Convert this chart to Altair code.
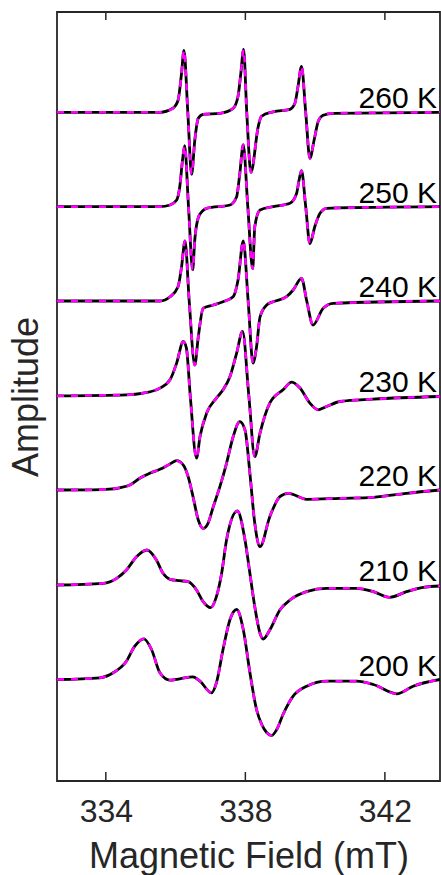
import altair as alt
import pandas as pd

temps = ["260 K", "250 K", "240 K", "230 K", "220 K", "210 K", "200 K"]
offsets = [668.7, 574.3, 480.0, 385.2, 291.0, 196.0, 101.5]

field_260 = [332.6, 335.55, 335.92, 336.07, 336.17, 336.24, 336.35, 336.46, 336.55, 336.65, 336.79, 337.27,
             337.65, 337.79, 337.87, 337.95, 338.04, 338.16, 338.37, 338.46, 338.80, 339.28, 339.42, 339.51,
             339.61, 339.73, 339.85, 339.97, 340.09, 340.23, 340.52, 343.58]
amp_260 = [0, 0, 4, 12, 39, 62, 0, -62, -28, -6, -2, -1,
           4, 16, 39, 63, 0, -60, -14, -4, 0.5, 3, 9, 26,
           46, 0, -46, -28, -9, -3, -1, 0]

field_250 = [332.6, 335.55, 335.84, 336.03, 336.12, 336.20, 336.26, 336.37, 336.49, 336.55, 336.65, 336.78,
             336.89, 337.56, 337.75, 337.84, 337.94, 338.07, 338.21, 338.27, 338.42, 338.80, 339.28, 339.47,
             339.54, 339.61, 339.73, 339.85, 339.99, 340.14, 340.33, 343.58]
amp_250 = [0, 0, 1.7, 6.7, 20, 47, 61, 0, -63, -33, -11, -4,
           -1.6, 1.7, 10, 33, 62, 0, -62, -20, -3.3, 0, 3.4, 13.4,
           26.7, 36, 0, -37, -20, -6.6, -1.6, 0]

field_240 = [332.6, 335.55, 335.84, 336.07, 336.17, 336.27, 336.39, 336.55, 336.65, 336.79, 337.08, 337.36,
             337.65, 337.79, 337.94, 338.08, 338.22, 338.32, 338.42, 338.61, 338.80, 339.18, 339.37, 339.61,
             339.76, 339.94, 340.23, 340.52, 343.58]
amp_240 = [0, 0, 4.3, 14.3, 34, 60, 0, -64, -36, -7.3, -4, -0.7,
           4.3, 21, 60, 0, -62, -46, -16, -4, -0.7, 4.3, 11, 22.7,
           0, -24, -7.3, -2.3, 0]

field_230 = [332.6, 334.59, 335.07, 335.55, 335.84, 336.03, 336.22, 336.31, 336.42, 336.60, 336.70, 336.89,
             337.17, 337.36, 337.56, 337.75, 337.92, 338.10, 338.27, 338.42, 338.70, 339.08, 339.33, 339.56,
             339.85, 340.09, 340.33, 340.71, 341.67, 343.58]
amp_230 = [0, 1, 2.7, 7.7, 16, 32.7, 54.3, 47.7, 0, -62.3, -40.7, -17.3,
           -2.3, 6, 19.3, 42.7, 64.3, 0, -60.7, -37.3, -7.3, 6, 13.7, 8,
           -7.3, -14, -10.7, -5.7, -3.3, -0.7]

field_220 = [332.6, 333.6, 334.1, 334.40, 334.69, 334.97, 335.26, 335.55, 335.84, 336.03, 336.22, 336.36, 336.50,
             336.65, 336.79, 336.93, 337.08, 337.27, 337.46, 337.65, 337.84, 337.99, 338.13, 338.27, 338.42,
             338.70, 338.99, 339.23, 339.76, 340.71, 341.67, 342.62, 343.58]
amp_220 = [0, 0.2, 0.8, 2.2, 5, 11.7, 16.7, 20.7, 26, 29.3, 25, 13.3, -6.7,
           -30, -38.3, -33.3, -16.7, 3.3, 26.7, 53.3, 68.3, 60, 16.7, -33.3, -56.7,
           -26.7, -6.7, -3.3, -9.3, -8.3, -7.3, -3.3, 0]

field_210 = [332.6, 333.92, 334.31, 334.59, 334.88, 335.18, 335.45, 335.64, 335.84, 336.12, 336.36, 336.60,
             336.79, 337.00, 337.17, 337.32, 337.46, 337.77, 337.99, 338.13, 338.27, 338.42, 338.51, 338.70,
             338.99, 339.28, 339.75, 340.33, 341.19, 341.67, 342.14, 342.62, 343.10, 343.58]
amp_210 = [0, 1.7, 6.7, 15, 28.3, 35, 25, 11.7, 5.7, 4.3, 3.3, -5,
           -16.7, -22.7, -11.7, 11.7, 45, 74, 45, 11.7, -21.7, -48.3, -54, -45,
           -25, -15, -6.7, -3.3, -3.3, -6.7, -12.3, -6.7, -2.3, -1]

field_200 = [332.6, 333.83, 334.21, 334.59, 334.83, 335.09, 335.31, 335.55, 335.84, 336.12, 336.50, 336.70,
             337.03, 337.17, 337.36, 337.56, 337.75, 337.94, 338.13, 338.32, 338.47, 338.61, 338.75, 338.90,
             339.08, 339.37, 339.76, 340.33, 341.19, 341.67, 342.34, 342.81, 343.58]
amp_200 = [0, 1.7, 6.7, 18.3, 33.3, 40.7, 30, 6.7, -0.7, 0.7, 2.7, -1.7,
           -13.3, -3.3, 30, 60, 70, 50, 7, -30, -45, -53, -56, -50,
           -35, -16.7, -6.7, -1.7, -1.7, -5, -14.3, -6.7, 0]

tick_values = [334, 338, 342]

fields = [field_260, field_250, field_240, field_230, field_220, field_210, field_200]
amps = [amp_260, amp_250, amp_240, amp_230, amp_220, amp_210, amp_200]

rows = []
for t, off, fs, am in zip(temps, offsets, fields, amps):
    for i, (f, a) in enumerate(zip(fs, am)):
        rows.append({"temp": t, "i": i, "field": f, "y": a + off})
df = pd.DataFrame(rows)
lab = pd.DataFrame({"temp": temps, "y": offsets})
ticks = pd.DataFrame({"field": tick_values})

FONT = "Liberation Sans"
AXC = "#262626"
xs = alt.Scale(domain=[332.6, 343.58], nice=False, zero=False)
ys = alt.Scale(domain=[0, 769], nice=False, zero=False)

xaxis = alt.Axis(values=tick_values, ticks=False, domain=False, grid=False,
                 labelFontSize=32, labelPadding=15, labelColor=AXC, labelFont=FONT,
                 title="Magnetic Field (mT)", titleFontSize=36, titleFont=FONT,
                 titleColor=AXC, titleFontWeight="normal", titleBaseline="alphabetic",
                 titleY=86)
yaxis = alt.Axis(ticks=False, labels=False, domain=False, grid=False,
                 title="Amplitude", titleFontSize=36, titleFont=FONT, titleColor=AXC,
                 titleFontWeight="normal", titleBaseline="alphabetic", titleAngle=270,
                 titleAlign="center", titleX=-20, titleY=384.5)

base = alt.Chart(df).encode(
    x=alt.X("field:Q", scale=xs, axis=xaxis),
    y=alt.Y("y:Q", scale=ys, axis=yaxis),
    detail="temp:N",
    order="i:Q",
)
black = base.mark_line(color="black", strokeWidth=2.8, interpolate="monotone", clip=True)
mag = base.mark_line(color="#ff00ff", strokeWidth=2.6, strokeDash=[7, 7],
                     interpolate="monotone", clip=True)

tick_bottom = alt.Chart(ticks).mark_rule(color=AXC, strokeWidth=1.5).encode(
    x=alt.X("field:Q", scale=xs, axis=xaxis), y=alt.value(769), y2=alt.value(760))
tick_top = alt.Chart(ticks).mark_rule(color=AXC, strokeWidth=1.5).encode(
    x=alt.X("field:Q", scale=xs, axis=xaxis), y=alt.value(0), y2=alt.value(8))

labels = alt.Chart(lab).mark_text(align="right", baseline="alphabetic", fontSize=30,
                                  font=FONT, dy=-4, color="black").encode(
    x=alt.value(380), y=alt.Y("y:Q", scale=ys, axis=yaxis), text="temp:N")

chart = alt.layer(black, mag, tick_bottom, tick_top, labels).properties(
    width=383, height=769,
    autosize=alt.AutoSizeParams(type="none"),
    padding={"left": 57, "top": 12, "right": 1, "bottom": 94},
).configure_view(stroke=AXC, strokeWidth=1.8)

chart.save("out.html", embed_options={"renderer": "svg", "actions": False})
